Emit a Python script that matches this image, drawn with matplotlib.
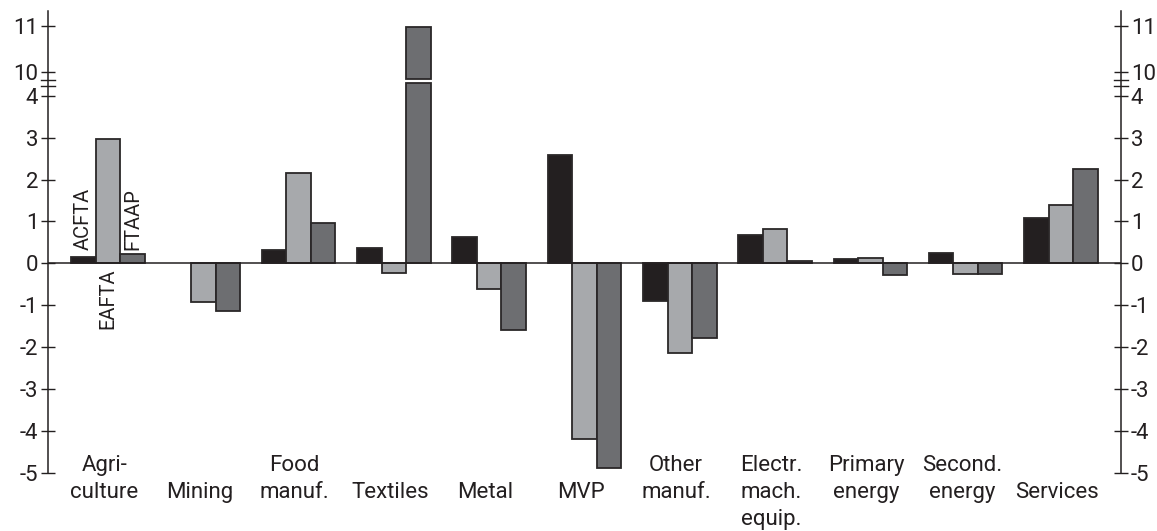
import matplotlib
matplotlib.use("Agg")
import matplotlib.pyplot as plt
import matplotlib.transforms as mtransforms
import numpy as np

plt.rcParams['font.family'] = ['Roboto', 'DejaVu Sans']
plt.rcParams['font.weight'] = 'normal'

# ---- data ----
categories = ["Agri-\nculture", "Mining", "Food\nmanuf.", "Textiles", "Metal", "MVP",
              "Other\nmanuf.", "Electr.\nmach.\nequip.", "Primary\nenergy", "Second.\nenergy",
              "Services"]
series_names = ["ACFTA", "EAFTA", "FTAAP"]
acfta = [0.16, 0.0, 0.33, 0.36, 0.64, 2.58, -0.89, 0.68, 0.10, 0.24, 1.09]
eafta = [2.96, -0.93, 2.15, -0.22, -0.62, -4.19, -2.14, 0.82, 0.12, -0.25, 1.39]
ftaap = [0.22, -1.13, 0.97, 10.97, -1.60, -4.89, -1.78, 0.06, -0.27, -0.25, 2.24]
yticks_low = [-5, -4, -3, -2, -1, 0, 1, 2, 3, 4]
yticks_high = [10, 11]

colors = ['#231f20', '#a7a9ac', '#6d6e71']
edge = '#2a2728'

# broken-axis mapping: values up to 4 linear, values >= 10 shifted down
BREAK_LO, BREAK_HI = 4.0, 10.0
HIGH_BASE, HIGH_SCALE = 4.56, 1.10
GAP_LO, GAP_HI = 4.30, 4.39


def fy(v):
    v = np.asarray(v, dtype=float)
    return np.where(v <= BREAK_LO, v, HIGH_BASE + (v - BREAK_HI) * HIGH_SCALE)


fig = plt.figure(figsize=(11.57, 5.31), dpi=100)
W, H = 1157, 531
ax = fig.add_axes([48 / W, 1 - 473 / H, (1121 - 48) / W, (473 - 11) / H])

n = len(categories)
x = np.arange(n)
bw = 0.257
data = [acfta, eafta, ftaap]
offsets = [-bw, 0, bw]

for s, vals in enumerate(data):
    vals = np.asarray(vals, dtype=float)
    for i, v in enumerate(vals):
        if v == 0:
            continue
        xpos = x[i] + offsets[s]
        if v > BREAK_LO:
            ax.bar(xpos, GAP_LO, width=bw, bottom=0, color=colors[s], edgecolor=edge,
                   linewidth=1.3, zorder=3)
            top = float(fy(v))
            ax.bar(xpos, top - GAP_HI, width=bw, bottom=GAP_HI, color=colors[s],
                   edgecolor=edge, linewidth=1.3, zorder=3)
        else:
            ax.bar(xpos, v, width=bw, color=colors[s], edgecolor=edge, linewidth=1.3,
                   zorder=3)

ax.axhline(0, color='#231f20', lw=1.1, zorder=4)

ax.set_xlim(-0.63, n - 1 + 0.63)
ax.set_ylim(-5, 6.02)

tick_pos = list(fy(yticks_low)) + list(fy(yticks_high))
tick_lab = [str(t) for t in yticks_low] + [str(t) for t in yticks_high]
ax.set_yticks(tick_pos)
ax.set_yticklabels(tick_lab)
ax.tick_params(axis='y', which='both', direction='inout', length=10, width=1,
               left=True, right=True, labelleft=True, labelright=True,
               labelsize=16, pad=2, colors='#231f20')
ax.tick_params(axis='x', bottom=False, labelbottom=False)

for sp in ['top', 'bottom']:
    ax.spines[sp].set_visible(False)
for sp in ['left', 'right']:
    ax.spines[sp].set_linewidth(1.1)
    ax.spines[sp].set_color('#231f20')

# break marks on both axes
trans_ay = mtransforms.blended_transform_factory(ax.transAxes, ax.transData)
d = 7 / (1121 - 48)
for xa in (0, 1):
    for yb in (4.22, 4.37):
        ax.plot([xa - d, xa + d], [yb, yb], color='#231f20', lw=1, transform=trans_ay,
                clip_on=False, zorder=5)

# category labels
trans_xa = mtransforms.blended_transform_factory(ax.transData, ax.transAxes)
line_step_px = 27.0
base0_px = -2.3
for i, lab in enumerate(categories):
    lines = lab.split("\n")
    start = 0 if len(lines) > 1 else 1
    for j, line in enumerate(lines):
        k = start + j
        off_px = base0_px + k * line_step_px
        ax.annotate(line, xy=(x[i] - 0.04, 0), xycoords=trans_xa,
                    xytext=(0, -off_px * 72 / 100), textcoords='offset points',
                    ha='center', va='baseline', fontsize=16, color='#231f20',
                    annotation_clip=False)

# series labels (rotated) on the agriculture group
ax.text(x[0] + offsets[0], fy(acfta[0]) + 0.15, series_names[0], rotation=90,
        ha='center', va='bottom', fontsize=14.5, color='#231f20')
ax.text(x[0] + offsets[1], -0.12, series_names[1], rotation=90,
        ha='center', va='top', fontsize=14.5, color='#231f20')
ax.text(x[0] + offsets[2], fy(acfta[0]) + 0.15, series_names[2], rotation=90,
        ha='center', va='bottom', fontsize=14.5, color='#231f20')

fig.savefig("out.png", dpi=100)
